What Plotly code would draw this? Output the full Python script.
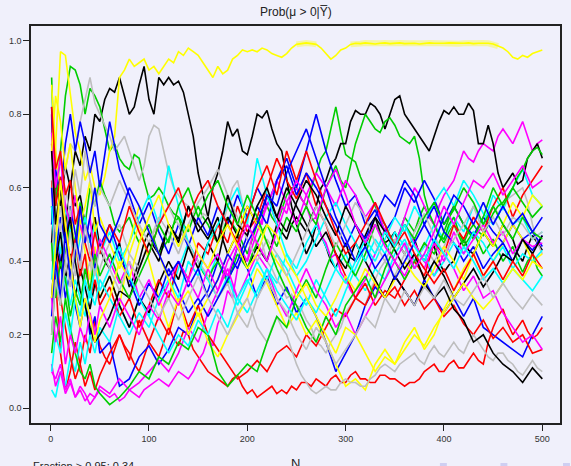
import plotly.graph_objects as go

# Sample sizes at which the posterior probability was recorded
N = [1, 5, 10, 15, 20, 25, 30, 35, 40, 45, 50] + list(range(60, 501, 10))
N5 = [1] + list(range(5, 501, 5))

# Posterior probability Prob(mu > 0 | Ybar) along each simulated sequence
# (finely recorded sequences use N5, the rest use N)
k1 = [0.45, 0.62, 0.55, 0.66, 0.6, 0.7, 0.66, 0.74, 0.7, 0.8, 0.78,
      0.84, 0.87, 0.86, 0.9, 0.85, 0.8, 0.82, 0.88, 0.93, 0.84,
      0.8, 0.9, 0.88, 0.9, 0.88, 0.89, 0.86, 0.8, 0.74, 0.64,
      0.58, 0.52, 0.6, 0.64, 0.7, 0.78, 0.74, 0.76, 0.7, 0.69,
      0.74, 0.8, 0.79, 0.81, 0.76, 0.72, 0.7, 0.62, 0.55, 0.5,
      0.46, 0.42, 0.45, 0.5, 0.47, 0.44, 0.4, 0.38, 0.42, 0.45,
      0.41, 0.4, 0.44, 0.47, 0.5, 0.52, 0.48, 0.45, 0.46, 0.48,
      0.44, 0.42, 0.45, 0.46, 0.42, 0.4, 0.43, 0.44, 0.4, 0.37,
      0.39, 0.4, 0.44, 0.46, 0.43, 0.42, 0.45, 0.48, 0.46, 0.44,
      0.47, 0.5, 0.48, 0.46, 0.42, 0.4, 0.44, 0.47, 0.45, 0.43]
r1 = [0.8, 0.35, 0.15, 0.05, 0.1, 0.18, 0.12, 0.2, 0.15, 0.24, 0.17,
      0.14, 0.12, 0.16, 0.2, 0.17, 0.15, 0.12, 0.1, 0.14, 0.18,
      0.16, 0.14, 0.18, 0.22, 0.19, 0.17, 0.21, 0.2, 0.16, 0.14,
      0.12, 0.1, 0.09, 0.08, 0.07, 0.06, 0.08, 0.09, 0.06, 0.04,
      0.05, 0.03, 0.04, 0.05, 0.06, 0.04, 0.05, 0.04, 0.06, 0.05,
      0.07, 0.07, 0.06, 0.08, 0.07, 0.06, 0.08, 0.09, 0.07, 0.07,
      0.09, 0.1, 0.08, 0.08, 0.07, 0.07, 0.09, 0.09, 0.08, 0.08,
      0.07, 0.06, 0.07, 0.07, 0.08, 0.1, 0.11, 0.12, 0.1, 0.1,
      0.12, 0.13, 0.11, 0.11, 0.13, 0.15, 0.13, 0.12, 0.18, 0.22,
      0.25, 0.27, 0.23, 0.2, 0.22, 0.24, 0.21, 0.19, 0.2, 0.22]
g1 = [0.9, 0.55, 0.7, 0.85, 0.93, 0.92, 0.88, 0.8, 0.87, 0.85, 0.82,
      0.76, 0.7, 0.72, 0.68, 0.66, 0.65, 0.69, 0.68, 0.62, 0.57,
      0.58, 0.6, 0.58, 0.55, 0.53, 0.52, 0.5, 0.48, 0.52, 0.55,
      0.52, 0.5, 0.47, 0.45, 0.48, 0.52, 0.5, 0.48, 0.45, 0.42,
      0.46, 0.5, 0.53, 0.55, 0.52, 0.5, 0.54, 0.58, 0.6, 0.6,
      0.57, 0.55, 0.6, 0.64, 0.68, 0.7, 0.76, 0.82, 0.75, 0.69,
      0.68, 0.67, 0.63, 0.6, 0.58, 0.55, 0.52, 0.5, 0.47, 0.45,
      0.48, 0.52, 0.5, 0.48, 0.52, 0.55, 0.52, 0.5, 0.47, 0.45,
      0.48, 0.5, 0.47, 0.44, 0.46, 0.48, 0.45, 0.42, 0.44, 0.46,
      0.43, 0.4, 0.42, 0.44, 0.4, 0.37, 0.4, 0.42, 0.38, 0.36]
b1 = [0.82, 0.5, 0.4, 0.3, 0.38, 0.28, 0.22, 0.3, 0.2, 0.25, 0.15,
      0.18, 0.06, 0.08, 0.14, 0.17, 0.12, 0.16, 0.22, 0.2, 0.28,
      0.32, 0.4, 0.35, 0.44, 0.38, 0.3, 0.36, 0.28, 0.33, 0.26,
      0.3, 0.25, 0.18, 0.1, 0.15, 0.2, 0.28, 0.33, 0.3, 0.36,
      0.32, 0.28, 0.35, 0.3, 0.26, 0.3, 0.25, 0.3, 0.22, 0.2,
      0.18, 0.16, 0.14, 0.2, 0.25]
c1 = [0.05, 0.03, 0.1, 0.06, 0.14, 0.1, 0.18, 0.12, 0.2, 0.15, 0.22,
      0.18, 0.28, 0.22, 0.3, 0.25, 0.35, 0.3, 0.38, 0.45, 0.4,
      0.35, 0.42, 0.36, 0.3, 0.26, 0.32, 0.38, 0.34, 0.42, 0.38,
      0.45, 0.5, 0.44, 0.38, 0.42, 0.36, 0.32, 0.38, 0.35, 0.42,
      0.46, 0.4, 0.44, 0.5, 0.46, 0.52, 0.48, 0.55, 0.5, 0.58,
      0.54, 0.6, 0.65, 0.58, 0.55]
m1 = [0.1, 0.08, 0.12, 0.05, 0.08, 0.03, 0.05, 0.02, 0.04, 0.03, 0.05,
      0.04, 0.03, 0.04, 0.02, 0.03, 0.05, 0.04, 0.03, 0.05, 0.06,
      0.07, 0.08, 0.07, 0.06, 0.08, 0.1, 0.09, 0.08, 0.1, 0.13,
      0.15, 0.19, 0.17, 0.23, 0.26, 0.32, 0.3, 0.38, 0.42, 0.4,
      0.47, 0.52, 0.5, 0.58, 0.54, 0.5, 0.55, 0.53, 0.58, 0.6,
      0.57, 0.55, 0.51, 0.52, 0.47, 0.45, 0.41, 0.42, 0.37, 0.35,
      0.32, 0.3, 0.33, 0.35, 0.39, 0.42, 0.45, 0.49, 0.46, 0.45,
      0.48, 0.52, 0.56, 0.6, 0.58, 0.55, 0.52, 0.5, 0.55, 0.58,
      0.6, 0.62, 0.66, 0.7, 0.68, 0.67, 0.7, 0.72, 0.71, 0.7,
      0.74, 0.76, 0.74, 0.72, 0.75, 0.78, 0.74, 0.7, 0.72, 0.73]
y1 = [0.5, 0.72, 0.97, 0.96, 0.85, 0.75, 0.7, 0.62, 0.66, 0.6, 0.58,
      0.63, 0.7, 0.74, 0.9, 0.92, 0.95, 0.93, 0.94, 0.95, 0.92,
      0.93, 0.91, 0.93, 0.95, 0.94, 0.97, 0.96, 0.98, 0.97, 0.96,
      0.94, 0.92, 0.9, 0.93, 0.91, 0.92, 0.95, 0.96, 0.975, 0.97,
      0.975, 0.97, 0.98, 0.975, 0.965, 0.96, 0.955, 0.965, 0.98, 0.99,
      0.993, 0.994, 0.992, 0.99, 0.98, 0.965, 0.95, 0.96, 0.975, 0.98,
      0.99, 0.993, 0.992, 0.994, 0.993, 0.991, 0.993, 0.994, 0.992, 0.993,
      0.994, 0.992, 0.993, 0.993, 0.991, 0.993, 0.994, 0.993, 0.992, 0.993,
      0.994, 0.993, 0.992, 0.993, 0.994, 0.992, 0.993, 0.994, 0.993, 0.991,
      0.985, 0.98, 0.97, 0.955, 0.95, 0.96, 0.955, 0.965, 0.97, 0.975]
gr1 = [0.5, 0.7, 0.6, 0.65, 0.72, 0.7, 0.78, 0.84, 0.9, 0.83, 0.8,
       0.77, 0.74, 0.7, 0.72, 0.74, 0.7, 0.66, 0.62, 0.66, 0.74,
       0.77, 0.76, 0.7, 0.64, 0.6, 0.58, 0.56, 0.55, 0.52, 0.5,
       0.53, 0.52, 0.48, 0.46, 0.5, 0.55, 0.6, 0.62, 0.56, 0.5,
       0.47, 0.44, 0.45, 0.4, 0.38, 0.35, 0.33, 0.3, 0.31, 0.28,
       0.27, 0.24, 0.22, 0.18, 0.17, 0.15, 0.18, 0.2, 0.22, 0.26,
       0.28, 0.3, 0.29, 0.28, 0.32, 0.35, 0.38, 0.4, 0.38, 0.36,
       0.39, 0.42, 0.4, 0.38, 0.42, 0.45, 0.42, 0.4, 0.42, 0.44,
       0.47, 0.5, 0.48, 0.46, 0.49, 0.52, 0.5, 0.48, 0.52, 0.55,
       0.53, 0.55, 0.57, 0.58, 0.59, 0.6, 0.56, 0.5, 0.45, 0.42]

k2 = [0.3, 0.45, 0.38, 0.5, 0.62, 0.55, 0.58, 0.5, 0.46, 0.52, 0.44,
      0.4, 0.38, 0.42, 0.45, 0.38, 0.33, 0.36, 0.4, 0.45, 0.48,
      0.44, 0.42, 0.46, 0.5, 0.48, 0.45, 0.5, 0.55, 0.52, 0.5,
      0.48, 0.46, 0.49, 0.52, 0.46, 0.42, 0.45, 0.47, 0.42, 0.38,
      0.41, 0.44, 0.42, 0.4, 0.45, 0.5, 0.48, 0.46, 0.5, 0.52,
      0.5, 0.48, 0.52, 0.55, 0.6, 0.62, 0.66, 0.68, 0.72, 0.72,
      0.78, 0.81, 0.8, 0.8, 0.83, 0.82, 0.8, 0.76, 0.8, 0.84,
      0.85, 0.8, 0.78, 0.76, 0.74, 0.72, 0.7, 0.74, 0.78, 0.81,
      0.8, 0.82, 0.8, 0.8, 0.83, 0.81, 0.72, 0.72, 0.77, 0.72,
      0.64, 0.6, 0.62, 0.64, 0.61, 0.62, 0.68, 0.7, 0.72, 0.68]
r2 = [0.62, 0.45, 0.3, 0.22, 0.14, 0.08, 0.12, 0.06, 0.1, 0.05, 0.09,
      0.15, 0.2, 0.13, 0.24, 0.18, 0.25, 0.2, 0.3, 0.22, 0.28,
      0.2, 0.16, 0.12, 0.08, 0.1, 0.13, 0.1, 0.15, 0.17, 0.14,
      0.2, 0.17, 0.22, 0.27, 0.25, 0.3, 0.28, 0.34, 0.3, 0.33,
      0.28, 0.32, 0.27, 0.3, 0.25, 0.28, 0.23, 0.2, 0.24, 0.19,
      0.22, 0.18, 0.2, 0.15, 0.16]
g2 = [0.2, 0.35, 0.28, 0.42, 0.5, 0.45, 0.56, 0.5, 0.6, 0.55, 0.62,
      0.58, 0.55, 0.5, 0.48, 0.5, 0.52, 0.48, 0.45, 0.48, 0.5,
      0.46, 0.42, 0.44, 0.46, 0.5, 0.52, 0.48, 0.45, 0.42, 0.4,
      0.37, 0.35, 0.38, 0.4, 0.37, 0.34, 0.38, 0.42, 0.4, 0.38,
      0.42, 0.45, 0.48, 0.5, 0.47, 0.44, 0.48, 0.52, 0.5, 0.48,
      0.52, 0.55, 0.52, 0.5, 0.55, 0.6, 0.63, 0.66, 0.62, 0.6,
      0.66, 0.72, 0.76, 0.8, 0.78, 0.76, 0.75, 0.78, 0.79, 0.77,
      0.74, 0.73, 0.72, 0.74, 0.68, 0.58, 0.53, 0.5, 0.47, 0.46,
      0.5, 0.52, 0.48, 0.45, 0.48, 0.5, 0.48, 0.47, 0.5, 0.53,
      0.55, 0.56, 0.58, 0.6, 0.63, 0.65, 0.68, 0.7, 0.71, 0.69]
b2 = [0.5, 0.65, 0.58, 0.72, 0.8, 0.7, 0.78, 0.72, 0.64, 0.7, 0.6,
      0.78, 0.65, 0.58, 0.5, 0.56, 0.48, 0.42, 0.5, 0.44, 0.52,
      0.47, 0.55, 0.5, 0.58, 0.52, 0.6, 0.55, 0.62, 0.68, 0.6,
      0.7, 0.8, 0.7, 0.62, 0.55, 0.58, 0.5, 0.54, 0.48, 0.52,
      0.6, 0.56, 0.62, 0.57, 0.5, 0.55, 0.5, 0.47, 0.52, 0.48,
      0.45, 0.5, 0.46, 0.43, 0.47]
c2 = [0.35, 0.5, 0.42, 0.55, 0.48, 0.4, 0.46, 0.52, 0.45, 0.5, 0.42,
      0.48, 0.4, 0.45, 0.52, 0.58, 0.5, 0.66, 0.55, 0.45, 0.4,
      0.35, 0.3, 0.36, 0.28, 0.34, 0.4, 0.35, 0.42, 0.38, 0.32,
      0.28, 0.35, 0.3, 0.25, 0.32, 0.38, 0.44, 0.4, 0.46, 0.52,
      0.48, 0.55, 0.5, 0.56, 0.6, 0.55, 0.62, 0.58, 0.53, 0.5,
      0.55, 0.5, 0.52, 0.46, 0.48]
m2 = [0.12, 0.06, 0.1, 0.04, 0.07, 0.03, 0.06, 0.04, 0.01, 0.03, 0.06,
      0.04, 0.08, 0.05, 0.07, 0.1, 0.13, 0.1, 0.15, 0.22, 0.18,
      0.26, 0.32, 0.4, 0.45, 0.4, 0.48, 0.55, 0.62, 0.56, 0.5,
      0.58, 0.64, 0.6, 0.55, 0.62, 0.58, 0.52, 0.56, 0.48, 0.44,
      0.5, 0.45, 0.4, 0.36, 0.42, 0.38, 0.32, 0.36, 0.3, 0.32,
      0.26, 0.22, 0.18, 0.2, 0.16]
y2 = [0.88, 0.7, 0.6, 0.45, 0.55, 0.4, 0.5, 0.42, 0.35, 0.44, 0.3,
      0.36, 0.28, 0.42, 0.5, 0.4, 0.3, 0.22, 0.3, 0.2, 0.26,
      0.18, 0.14, 0.2, 0.25, 0.3, 0.38, 0.34, 0.28, 0.22, 0.26,
      0.2, 0.24, 0.18, 0.12, 0.06, 0.08, 0.05, 0.12, 0.16, 0.12,
      0.18, 0.22, 0.16, 0.2, 0.27, 0.32, 0.38, 0.42, 0.36, 0.4,
      0.45, 0.5, 0.46, 0.4, 0.42]
gr2 = [0.65, 0.48, 0.55, 0.4, 0.48, 0.36, 0.42, 0.35, 0.4, 0.32, 0.38,
       0.42, 0.45, 0.48, 0.5, 0.46, 0.42, 0.4, 0.38, 0.42, 0.45,
       0.48, 0.5, 0.53, 0.55, 0.52, 0.5, 0.47, 0.45, 0.42, 0.4,
       0.38, 0.36, 0.33, 0.3, 0.32, 0.34, 0.3, 0.26, 0.28, 0.3,
       0.26, 0.22, 0.2, 0.18, 0.22, 0.25, 0.22, 0.2, 0.16, 0.12,
       0.09, 0.07, 0.05, 0.04, 0.05, 0.06, 0.05, 0.05, 0.07, 0.08,
       0.07, 0.07, 0.06, 0.06, 0.08, 0.09, 0.11, 0.12, 0.11, 0.1,
       0.12, 0.13, 0.14, 0.15, 0.13, 0.12, 0.15, 0.17, 0.15, 0.14,
       0.16, 0.18, 0.16, 0.15, 0.18, 0.2, 0.18, 0.16, 0.14, 0.13,
       0.15, 0.15, 0.13, 0.12, 0.1, 0.09, 0.11, 0.13, 0.11, 0.1]

k3 = [0.55, 0.4, 0.48, 0.35, 0.42, 0.3, 0.38, 0.33, 0.27, 0.34, 0.3,
      0.36, 0.28, 0.22, 0.3, 0.26, 0.34, 0.4, 0.35, 0.44, 0.38,
      0.45, 0.4, 0.52, 0.47, 0.55, 0.5, 0.58, 0.52, 0.6, 0.55,
      0.5, 0.44, 0.48, 0.42, 0.38, 0.45, 0.4, 0.35, 0.3, 0.36,
      0.32, 0.28, 0.34, 0.3, 0.33, 0.27, 0.24, 0.18, 0.2, 0.15,
      0.12, 0.1, 0.07, 0.11, 0.08]
r3 = [0.72, 0.55, 0.63, 0.5, 0.4, 0.46, 0.36, 0.42, 0.3, 0.35, 0.28,
      0.33, 0.25, 0.3, 0.22, 0.28, 0.35, 0.3, 0.4, 0.35, 0.45,
      0.42, 0.5, 0.45, 0.55, 0.48, 0.52, 0.6, 0.68, 0.62, 0.57,
      0.64, 0.55, 0.5, 0.42, 0.36, 0.3, 0.34, 0.28, 0.32, 0.3,
      0.35, 0.4, 0.36, 0.45, 0.42, 0.5, 0.46, 0.52, 0.48, 0.55,
      0.6, 0.52, 0.58, 0.62, 0.66]
g3 = [0.15, 0.25, 0.18, 0.3, 0.22, 0.15, 0.1, 0.08, 0.12, 0.06, 0.04,
      0.01, 0.03, 0.06, 0.1, 0.08, 0.14, 0.12, 0.18, 0.16, 0.22,
      0.2, 0.1, 0.06, 0.09, 0.12, 0.1, 0.18, 0.25, 0.22, 0.3,
      0.35, 0.3, 0.38, 0.45, 0.4, 0.36, 0.42, 0.5, 0.45, 0.4,
      0.35, 0.4, 0.45, 0.42, 0.48, 0.55, 0.5, 0.46, 0.52, 0.6,
      0.55, 0.6, 0.56, 0.52, 0.55]
b3 = [0.6, 0.42, 0.52, 0.45, 0.55, 0.48, 0.4, 0.5, 0.46, 0.38, 0.44,
      0.5, 0.42, 0.35, 0.28, 0.34, 0.3, 0.38, 0.32, 0.26, 0.3,
      0.25, 0.3, 0.35, 0.4, 0.47, 0.55, 0.5, 0.62, 0.66, 0.58,
      0.64, 0.6, 0.55, 0.5, 0.44, 0.5, 0.46, 0.52, 0.58, 0.55,
      0.62, 0.58, 0.5, 0.55, 0.48, 0.45, 0.4, 0.44, 0.38, 0.42,
      0.45, 0.4, 0.46, 0.48, 0.44]
c3 = [0.55, 0.38, 0.3, 0.36, 0.28, 0.35, 0.3, 0.25, 0.32, 0.28, 0.35,
      0.3, 0.25, 0.2, 0.26, 0.22, 0.3, 0.35, 0.3, 0.4, 0.36,
      0.45, 0.5, 0.55, 0.6, 0.5, 0.68, 0.58, 0.5, 0.42, 0.36,
      0.4, 0.46, 0.52, 0.56, 0.5, 0.45, 0.4, 0.46, 0.42, 0.48,
      0.44, 0.38, 0.42, 0.36, 0.4, 0.45, 0.42, 0.48, 0.45, 0.4,
      0.44, 0.38, 0.42, 0.4, 0.43]
m3 = [0.75, 0.6, 0.68, 0.55, 0.5, 0.58, 0.5, 0.45, 0.52, 0.4, 0.46,
      0.4, 0.34, 0.4, 0.3, 0.35, 0.28, 0.34, 0.4, 0.35, 0.42,
      0.38, 0.32, 0.38, 0.3, 0.36, 0.42, 0.38, 0.3, 0.25, 0.32,
      0.38, 0.32, 0.28, 0.22, 0.26, 0.2, 0.25, 0.3, 0.35, 0.4,
      0.36, 0.42, 0.38, 0.45, 0.4, 0.48, 0.42, 0.46, 0.5, 0.45,
      0.48, 0.42, 0.46, 0.44, 0.45]
y3 = [0.7, 0.85, 0.78, 0.65, 0.72, 0.6, 0.5, 0.55, 0.62, 0.48, 0.52,
      0.45, 0.38, 0.45, 0.55, 0.48, 0.42, 0.35, 0.28, 0.32, 0.25,
      0.3, 0.35, 0.42, 0.48, 0.55, 0.5, 0.45, 0.4, 0.36, 0.3,
      0.34, 0.28, 0.25, 0.3, 0.36, 0.32, 0.38, 0.34, 0.3, 0.35,
      0.4, 0.36, 0.33, 0.38, 0.44, 0.4, 0.35, 0.42, 0.48, 0.44,
      0.5, 0.56, 0.52, 0.58, 0.55]
gr3 = [0.4, 0.55, 0.48, 0.6, 0.52, 0.65, 0.58, 0.7, 0.62, 0.55, 0.6,
       0.55, 0.62, 0.56, 0.5, 0.45, 0.52, 0.48, 0.42, 0.5, 0.56,
       0.6, 0.65, 0.58, 0.52, 0.46, 0.4, 0.46, 0.42, 0.36, 0.42,
       0.48, 0.55, 0.5, 0.44, 0.5, 0.56, 0.52, 0.45, 0.4, 0.46,
       0.42, 0.48, 0.53, 0.47, 0.42, 0.46, 0.5, 0.55, 0.48, 0.52,
       0.47, 0.52, 0.5, 0.46, 0.48]

k4 = [0.7, 0.5, 0.6, 0.45, 0.52, 0.4, 0.32, 0.28, 0.22, 0.18, 0.2,
      0.25, 0.32, 0.3, 0.38, 0.45, 0.4, 0.5, 0.46, 0.55, 0.48,
      0.52, 0.45, 0.58, 0.5, 0.47, 0.55, 0.6, 0.52, 0.48, 0.56,
      0.62, 0.58, 0.52, 0.47, 0.55, 0.5, 0.44, 0.52, 0.48, 0.43,
      0.38, 0.42, 0.35, 0.4, 0.36, 0.3, 0.34, 0.38, 0.33, 0.37,
      0.42, 0.4, 0.46, 0.42, 0.47]
r4 = [0.82, 0.65, 0.7, 0.58, 0.62, 0.5, 0.55, 0.45, 0.4, 0.48, 0.42,
      0.5, 0.45, 0.55, 0.48, 0.42, 0.5, 0.55, 0.6, 0.52, 0.58,
      0.62, 0.55, 0.5, 0.45, 0.52, 0.6, 0.66, 0.58, 0.7, 0.62,
      0.7, 0.62, 0.55, 0.48, 0.42, 0.45, 0.5, 0.56, 0.5, 0.44,
      0.48, 0.42, 0.38, 0.34, 0.38, 0.32, 0.37, 0.42, 0.36, 0.4,
      0.35, 0.4, 0.36, 0.42, 0.38]
g4 = [0.45, 0.3, 0.4, 0.35, 0.25, 0.32, 0.28, 0.38, 0.32, 0.42, 0.36,
      0.42, 0.35, 0.3, 0.36, 0.42, 0.5, 0.45, 0.55, 0.6, 0.52,
      0.58, 0.62, 0.55, 0.5, 0.58, 0.52, 0.45, 0.38, 0.32, 0.28,
      0.22, 0.18, 0.25, 0.2, 0.28, 0.32, 0.36, 0.3, 0.38, 0.44,
      0.5, 0.46, 0.52, 0.56, 0.5, 0.54, 0.6, 0.56, 0.5, 0.55,
      0.5, 0.46, 0.52, 0.48, 0.46]
b4 = [0.25, 0.4, 0.3, 0.48, 0.35, 0.42, 0.55, 0.45, 0.52, 0.6, 0.5,
      0.45, 0.52, 0.6, 0.55, 0.48, 0.42, 0.36, 0.4, 0.33, 0.38,
      0.3, 0.35, 0.42, 0.38, 0.45, 0.5, 0.58, 0.55, 0.64, 0.7,
      0.76, 0.68, 0.6, 0.52, 0.46, 0.4, 0.44, 0.38, 0.42, 0.35,
      0.4, 0.45, 0.5, 0.45, 0.52, 0.58, 0.55, 0.5, 0.56, 0.5,
      0.55, 0.5, 0.53, 0.48, 0.52]
c4 = [0.1, 0.2, 0.15, 0.26, 0.2, 0.3, 0.25, 0.35, 0.3, 0.38, 0.32,
      0.38, 0.44, 0.36, 0.3, 0.25, 0.2, 0.15, 0.2, 0.17, 0.24,
      0.2, 0.27, 0.22, 0.3, 0.35, 0.3, 0.38, 0.32, 0.28, 0.24,
      0.3, 0.26, 0.32, 0.38, 0.34, 0.4, 0.46, 0.42, 0.48, 0.44,
      0.5, 0.44, 0.4, 0.46, 0.42, 0.38, 0.44, 0.4, 0.35, 0.38,
      0.34, 0.38, 0.35, 0.32, 0.36]
m4 = [0.3, 0.18, 0.25, 0.12, 0.2, 0.15, 0.22, 0.18, 0.26, 0.2, 0.28,
      0.22, 0.3, 0.25, 0.2, 0.28, 0.24, 0.32, 0.28, 0.35, 0.3,
      0.38, 0.42, 0.36, 0.44, 0.5, 0.45, 0.4, 0.48, 0.56, 0.62,
      0.58, 0.52, 0.6, 0.65, 0.58, 0.5, 0.45, 0.5, 0.44, 0.4,
      0.45, 0.38, 0.42, 0.48, 0.55, 0.5, 0.56, 0.62, 0.6, 0.64,
      0.58, 0.62, 0.66, 0.6, 0.62]
y4 = [0.3, 0.45, 0.62, 0.5, 0.4, 0.3, 0.22, 0.3, 0.25, 0.18, 0.24,
      0.3, 0.4, 0.35, 0.45, 0.52, 0.58, 0.5, 0.44, 0.5, 0.42,
      0.38, 0.45, 0.5, 0.44, 0.38, 0.42, 0.5, 0.47, 0.4, 0.36,
      0.3, 0.25, 0.2, 0.15, 0.22, 0.2, 0.15, 0.1, 0.14, 0.12,
      0.16, 0.2, 0.17, 0.22, 0.26, 0.3, 0.34, 0.3, 0.27, 0.3,
      0.34, 0.38, 0.35, 0.4, 0.38]
gr4 = [0.2, 0.35, 0.28, 0.4, 0.33, 0.45, 0.38, 0.5, 0.42, 0.36, 0.44,
       0.38, 0.32, 0.4, 0.35, 0.3, 0.25, 0.3, 0.24, 0.3, 0.36,
       0.3, 0.25, 0.2, 0.26, 0.22, 0.3, 0.35, 0.3, 0.26, 0.2,
       0.16, 0.22, 0.18, 0.12, 0.16, 0.2, 0.25, 0.22, 0.3, 0.26,
       0.32, 0.28, 0.33, 0.3, 0.35, 0.3, 0.28, 0.32, 0.36, 0.3,
       0.34, 0.3, 0.27, 0.31, 0.28]

# R default palette 1:8, recycled over the sequences
palette = ["#000000", "#FF0000", "#00CD00", "#0000FF",
           "#00FFFF", "#FF00FF", "#FFFF00", "#BEBEBE"]
series = [k1, r1, g1, b1, c1, m1, y1, gr1,
          k2, r2, g2, b2, c2, m2, y2, gr2,
          k3, r3, g3, b3, c3, m3, y3, gr3,
          k4, r4, g4, b4, c4, m4, y4, gr4]

title_text = "Prob(\u03bc > 0|Y\u0305)"
xlabel = "N"
note = "Fraction > 0.95: 0.34"
x_ticks = [0, 100, 200, 300, 400, 500]
y_ticks = [0.0, 0.2, 0.4, 0.6, 0.8, 1.0]

BG = "#F0F0FB"
W, H = 571, 466
ML, MR, MT, MB = 29, 9, 26, 43
PW, PH = W - ML - MR, H - MT - MB


def xs_for(s):
    return N5 if len(s) == len(N5) else N


fig = go.Figure()

# soft halo where the top sequence sits right against 1
halo = [v if v >= 0.985 else None for v in y1]
fig.add_trace(go.Scatter(x=xs_for(y1), y=halo, mode="lines",
                         line=dict(color="rgba(255,255,0,0.35)", width=6),
                         hoverinfo="skip", showlegend=False))

for i, s in enumerate(series):
    fig.add_trace(go.Scatter(x=xs_for(s), y=s, mode="lines",
                             line=dict(color=palette[i % 8], width=1.6),
                             showlegend=False))

axis_font = dict(family="Liberation Sans, Arial, sans-serif", size=9, color="#333333")

fig.update_layout(
    width=W, height=H,
    margin=dict(l=ML, r=MR, t=MT, b=MB, pad=0),
    paper_bgcolor=BG, plot_bgcolor=BG,
    showlegend=False,
    xaxis=dict(range=[-20, 518], tickvals=x_ticks, ticktext=[str(v) for v in x_ticks],
               ticks="outside", ticklen=6, tickwidth=1, tickcolor="#222222",
               showline=True, mirror=True, linecolor="#222222", linewidth=1.5,
               showgrid=False, zeroline=False, tickfont=axis_font),
    yaxis=dict(range=[-0.04, 1.04], tickvals=y_ticks,
               ticktext=["%.1f" % v for v in y_ticks],
               ticks="outside", ticklen=6, tickwidth=1, tickcolor="#222222",
               showline=True, mirror=True, linecolor="#222222", linewidth=1.5,
               showgrid=False, zeroline=False, tickfont=axis_font),
    font=dict(family="Liberation Sans, Arial, sans-serif"),
)

fig.add_annotation(text=title_text, xref="paper", yref="paper",
                   x=0.5, y=(H - MB - 12) / PH,
                   xanchor="center", yanchor="middle", showarrow=False,
                   font=dict(size=12, color="#222222"))
fig.add_annotation(text=xlabel, xref="paper", yref="paper",
                   x=(296 - ML) / PW, y=(H - MB - 463) / PH,
                   xanchor="center", yanchor="middle", showarrow=False,
                   font=dict(size=13, color="#222222"))
fig.add_annotation(text=note, xref="paper", yref="paper",
                   x=0, y=(H - MB - 466) / PH,
                   xanchor="left", yanchor="middle", showarrow=False,
                   font=dict(size=11, color="#222222"))

# small marks peeking in at the lower right edge
for px in (441, 502, 565):
    fig.add_shape(type="rect", xref="paper", yref="paper",
                  x0=(px - ML) / PW, x1=(px + 7 - ML) / PW,
                  y0=(H - MB - 467) / PH, y1=(H - MB - 463) / PH,
                  line=dict(width=0), fillcolor="#CFCFF2")

fig.write_html("out.html")
